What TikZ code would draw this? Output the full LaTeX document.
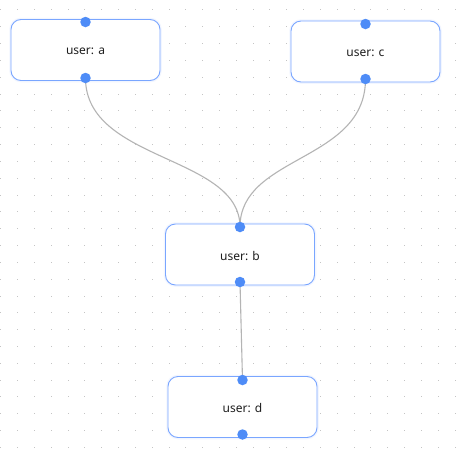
\documentclass[tikz,border=0pt]{standalone}
\usepackage{fontspec}
\setmainfont{Noto Sans}
\definecolor{nodeborder}{HTML}{7AA6FF}
\definecolor{portblue}{HTML}{4E8CF7}
\definecolor{edgegray}{HTML}{B4B4B4}
\definecolor{griddot}{HTML}{C4C4C4}
\definecolor{txt}{HTML}{1E1E1E}
\begin{document}
\begin{tikzpicture}[x=1pt,y=-1pt,
  userbox/.style={draw=nodeborder, line width=0.9pt, fill=white, rounded corners=10pt,
    minimum width=149pt, minimum height=61pt, inner sep=0pt,
    preaction={draw=nodeborder!10, line width=3.5pt}},
  lbl/.style={inner sep=0pt, text=txt, font=\fontsize{12}{14}\selectfont},
  port/.style={circle, fill=portblue, inner sep=0pt, minimum size=10.5pt},
  edge/.style={draw=edgegray, line width=1.1pt}]
\fill[white] (0,0) rectangle (461,461);
\useasboundingbox (0,0) rectangle (461,461);
\foreach \i in {0,...,27}{
  \foreach \j in {0,...,26}{
    \fill[griddot] ({0.7+16.83*\i-0.5},{9.9+16.83*\j-0.5}) rectangle ++(1,1);
  }
}
\node[userbox] (a) at (85.5,50) {};
\node[userbox] (c) at (365.5,51.5) {};
\node[userbox] (b) at (240,254.5) {};
\node[userbox] (d) at (242.5,407) {};
\node[lbl] (la) at ([yshift=-1.5pt]a.center) {user: a};
\node[lbl] (lc) at ([yshift=-1.5pt]c.center) {user: c};
\node[lbl] (lb) at ([yshift=-1.5pt]b.center) {user: b};
\node[lbl] (ld) at ([yshift=-1.5pt]d.center) {user: d};
\coordinate (aout) at (85.5,78);
\coordinate (cout) at (365.5,79);
\coordinate (bin) at (240,227);
\coordinate (bout) at (240,282);
\coordinate (din) at (242.5,380);
\draw[edge] (aout) .. controls (85.5,162) and (240,155) .. (bin);
\draw[edge] (cout) .. controls (365.5,162) and (240,155) .. (bin);
\draw[edge] (bout) -- (din);
\node[port] (pa1) at (85.5,22) {};
\node[port] (pa2) at (aout) {};
\node[port] (pc1) at (365.5,24) {};
\node[port] (pc2) at (cout) {};
\node[port] (pb1) at (bin) {};
\node[port] (pb2) at (bout) {};
\node[port] (pd1) at (din) {};
\node[port] (pd2) at (242.5,434.5) {};
\end{tikzpicture}
\end{document}
